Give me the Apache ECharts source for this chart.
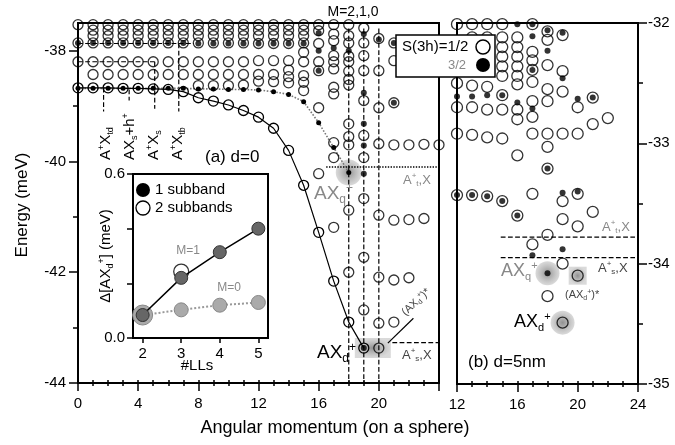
<!DOCTYPE html>
<html>
<head>
<meta charset="utf-8">
<script src="https://cdn.jsdelivr.net/npm/echarts@6/dist/echarts.min.js"></script>
<style>
html, body { margin: 0; padding: 0; background: #fff; }
#main { width: 675px; height: 445px; }
</style>
</head>
<body>
<div id="main"></div>
<script>
var FONT = 'Liberation Sans, Arial, Helvetica, sans-serif';

// ---------- panel (a): d = 0 ----------
var momA    = [0, 1, 2, 3, 4, 5, 6, 7, 8, 9, 10, 11, 12, 13, 14, 15, 16, 17, 18, 19];
var groundA = [-38.67, -38.67, -38.67, -38.68, -38.68, -38.69, -38.70, -38.74, -38.85, -38.91,
               -38.98, -39.08, -39.2, -39.4, -39.8, -40.43, -41.28, -42.16, -42.9, -43.37];
var momQ    = [0, 1, 2, 3, 4, 5, 6, 7, 8, 9, 10, 11, 12, 13, 14, 15, 16, 17, 18];
var branchQ = [-38.68, -38.68, -38.68, -38.68, -38.68, -38.68, -38.68, -38.68, -38.69, -38.69,
               -38.7, -38.7, -38.71, -38.74, -38.79, -38.92, -39.3, -39.75, -40.2];
// open circles, S=1/2: [momentum, energies...]
var openA = [
  [0, -37.53, -37.86, -38.2],
  [1, -37.53, -37.63, -37.73, -37.86, -38.2, -38.43],
  [2, -37.53, -37.63, -37.73, -37.86, -38.2, -38.43],
  [3, -37.53, -37.63, -37.73, -37.86, -38.2, -38.43],
  [4, -37.53, -37.63, -37.73, -37.86, -38.2, -38.43],
  [5, -37.53, -37.63, -37.73, -37.86, -38.2, -38.43],
  [6, -37.53, -37.63, -37.73, -37.86, -38.2, -38.43],
  [7, -37.53, -37.63, -37.73, -37.86, -38.2, -38.43],
  [8, -37.53, -37.63, -37.73, -37.86, -38.2, -38.43, -38.63],
  [9, -37.53, -37.63, -37.73, -37.86, -38.2, -38.43, -38.63],
  [10, -37.53, -37.63, -37.73, -37.86, -38.2, -38.43, -38.63],
  [11, -37.53, -37.63, -37.73, -37.86, -38.2, -38.43, -38.62],
  [12, -37.53, -37.63, -37.73, -37.87, -38.18, -38.43, -38.55],
  [13, -37.53, -37.63, -37.73, -37.87, -38.18, -38.43, -38.56],
  [14, -37.53, -37.63, -37.73, -37.87, -38.18, -38.35, -38.47, -38.58],
  [15, -37.53, -37.63, -37.73, -37.86, -38.03, -38.2, -38.45, -38.57, -38.72],
  [16, -37.53, -37.64, -37.87, -38.2, -38.36, -39.03, -40.22],
  [17, -37.53, -37.7, -37.82, -38.09, -38.2, -38.33, -38.66, -38.78, -39.66, -39.93, -41.19],
  [18, -37.53, -37.73, -37.86, -38.1, -38.2, -38.37, -38.52, -38.62, -39.32, -39.55, -39.7, -40.88, -42.0],
  [19, -37.59, -37.86, -38.09, -38.36, -38.9, -39.53, -39.93, -40.67, -41.73, -42.68],
  [20, -37.78, -38.36, -39.03, -39.68, -40.97, -42.09, -42.92, -43.37],
  [21, -37.86, -38.18, -38.94, -39.7, -41.06, -42.14, -42.9],
  [22, -39.7, -41.05, -42.1],
  [23, -39.69, -41.03],
  [24, -39.7]
];
// filled dots, S=3/2
var dotsA = [
  [0, -37.86], [1, -37.86], [2, -37.86], [3, -37.86], [4, -37.86], [5, -37.86], [6, -37.86], [7, -37.86],
  [8, -37.87], [9, -37.87], [10, -37.87], [11, -37.87], [12, -37.87], [13, -37.87], [14, -37.87], [15, -37.87],
  [16, -37.68], [16, -38.0], [16, -38.36], [17, -37.95], [18, -38.0],
  [19, -37.7], [19, -38.76], [19, -39.32], [19, -39.71], [19, -40.22], [19, -43.37],
  [20, -37.8], [21, -37.86], [21, -38.94]
];
var haloA = [[18, -40.2]];
var bandA = [[19.6, -43.37]];
var dashA = [
  [[0, -37.87], [7.7, -37.87]],
  [[0, -38.2], [5.1, -38.2]],
  [[1.7, -38.67], [1.7, -39.1]],
  [[3.4, -38.7], [3.4, -38.9]],
  [[5.1, -38.2], [5.1, -39.05]],
  [[6.7, -37.87], [6.7, -39.1]],
  [[18, -37.6], [18, -44]],
  [[19, -37.6], [19, -44]],
  [[20, -37.6], [20, -44]],
  [[20.9, -43.27], [24, -43.27]]
];
var dotLineA = [[[16.5, -40.1], [24, -40.1]]];
var pointerA = [[20.6, -43.28], [22.3, -42.83]];

// ---------- panel (b): d = 5 nm ----------
var openB = [
  [12, -32.01, -32.5, -32.7, -32.92, -33.43],
  [13, -32.01, -32.12, -32.52, -32.7, -32.93, -33.43],
  [14, -32.01, -32.12, -32.53, -32.72, -32.95, -33.44],
  [15, -32.01, -32.12, -32.2, -32.28, -32.36, -32.44, -32.6, -32.72, -32.96, -33.48],
  [16, -32.12, -32.2, -32.28, -32.36, -32.44, -32.51, -32.72, -32.8, -33.1, -33.6],
  [17, -32.01, -32.24, -32.31, -32.39, -32.49, -32.65, -32.78, -32.92, -33.42, -33.84],
  [18, -32.07, -32.14, -32.35, -32.55, -32.65, -32.92, -33.03, -33.21, -33.76, -34.27],
  [19, -32.1, -32.4, -32.57, -32.92, -33.48, -33.63, -34.0, -34.49],
  [20, -32.7, -32.92, -33.42, -33.69, -34.1],
  [21, -32.62, -32.84, -33.57],
  [22, -32.79]
];
var dotsB = [
  [12, -32.61], [13, -32.61], [14, -32.6], [15, -32.6],
  [12, -33.43], [13, -33.43], [14, -33.44], [15, -33.48],
  [16, -32.01], [16, -32.66], [16, -33.6],
  [17, -32.01], [17, -32.11], [17, -32.39], [17, -32.71], [17, -33.93],
  [18, -32.06], [18, -32.23], [18, -33.21], [18, -34.08],
  [19, -32.08], [19, -32.46], [19, -33.41], [19, -33.88],
  [20, -32.63], [20, -33.4], [21, -32.62]
];
var haloB = [[18, -34.08], [19, -34.49]];
var boxB = [[20, -34.1]];
var dashB = [
  [[14.9, -33.78], [23.8, -33.78]],
  [[14.9, -33.95], [23.8, -33.95]]
];

// ---------- inset: splitting vs number of Landau levels ----------
var llX = [2, 3, 4, 5];
var splitM1 = [0.084, 0.22, 0.314, 0.40];
var splitM0 = [0.084, 0.103, 0.12, 0.13];
var twoSub = [[3, 0.243]];

// tick labels
var xLabelsA = [0, 4, 8, 12, 16, 20];
var xMajorA = [0, 4, 8, 12, 16, 20, 24];
var xLabelsB = [12, 16, 20, 24];
var yLabelsA = [-44, -42, -40, -38];
var yMinorA = [-44, -43, -42, -41, -40, -39, -38];
var yLabelsB = [-35, -34, -33, -32];
var yMinorB = [-34.5, -33.5, -32.5];
var xLabelsIn = [2, 3, 4, 5];
var yTicksIn = [0, 0.2, 0.4, 0.6];
var yLabelsIn = [0, 0.6];

function ints(a, b) { var r = []; for (var i = a; i <= b; i++) r.push(i); return r; }
function pairs(t) {
  var out = [];
  t.forEach(function (c) { for (var i = 1; i < c.length; i++) out.push([c[0], c[i]]); });
  return out;
}
function zip(xs, ys) { return xs.map(function (x, i) { return [x, ys[i]]; }); }

var black = { color: '#000', width: 2 };
function axis(gi, min, max, pos, tickVals, len, labelVals, margin) {
  return {
    type: 'value', gridIndex: gi, min: min, max: max, position: pos,
    splitLine: { show: false },
    axisLine: { show: true, onZero: false, lineStyle: black },
    axisTick: { show: true, customValues: tickVals, length: len, lineStyle: { color: '#000', width: 1.5 } },
    axisLabel: labelVals ? {
      show: true, customValues: labelVals, color: '#000', fontSize: 15, fontFamily: FONT, margin: margin
    } : { show: false }
  };
}
function minor(gi, min, max, pos, tickVals, len, inside) {
  var a = axis(gi, min, max, pos, tickVals, len, null);
  a.axisLine = { show: false, onZero: false };
  a.axisTick.inside = !!inside;
  return a;
}

function ring(data, xi, yi, size) {
  return { type: 'scatter', xAxisIndex: xi, yAxisIndex: yi, data: data, symbol: 'circle', symbolSize: size,
    itemStyle: { color: 'rgba(255,255,255,0)', borderColor: '#000', borderWidth: 1.3 }, z: 4, silent: true };
}
function dot(data, xi, yi, size) {
  return { type: 'scatter', xAxisIndex: xi, yAxisIndex: yi, data: data, symbol: 'circle', symbolSize: size,
    itemStyle: { color: '#000' }, z: 5, silent: true };
}
var haloColor = { type: 'radial', x: 0.5, y: 0.5, r: 0.5, colorStops: [
  { offset: 0, color: 'rgba(110,110,110,0.95)' }, { offset: 1, color: 'rgba(170,170,170,0.55)' }] };
function halo(data, xi, yi, symbol, size) {
  return { type: 'scatter', xAxisIndex: xi, yAxisIndex: yi, data: data, symbol: symbol, symbolSize: size,
    itemStyle: { color: haloColor }, z: 2, silent: true };
}
function seg(points, xi, yi, type, color, width) {
  return { type: 'line', xAxisIndex: xi, yAxisIndex: yi, data: points, symbol: 'none',
    lineStyle: { type: type, color: color, width: width }, z: 3, silent: true };
}

var series = [];
// panel (a)
series.push(halo(haloA, 0, 0, 'circle', 26));
series.push(halo(bandA, 0, 0, 'rect', [36, 20]));
dashA.forEach(function (s) { series.push(seg(s, 0, 0, 'dashed', '#000', 1.2)); });
dotLineA.forEach(function (s) { series.push(seg(s, 0, 0, 'dotted', '#000', 1.4)); });
series.push(seg(pointerA, 0, 0, 'solid', '#000', 1.2));
series.push(ring(pairs(openA), 0, 0, 10));
series.push(dot(dotsA, 0, 0, 6));
series.push({
  type: 'line', xAxisIndex: 0, yAxisIndex: 0, data: zip(momQ, branchQ),
  symbol: 'circle', symbolSize: 5, showAllSymbol: true, z: 4, silent: true,
  itemStyle: { color: '#000' }, lineStyle: { type: 'dotted', color: '#777', width: 1.6 }
});
series.push({
  type: 'line', xAxisIndex: 0, yAxisIndex: 0, data: zip(momA, groundA),
  symbol: 'circle', symbolSize: 10, showAllSymbol: true, z: 4, silent: true,
  itemStyle: { color: 'rgba(255,255,255,0)', borderColor: '#000', borderWidth: 1.3 },
  lineStyle: { color: '#000', width: 1.2 }
});
// panel (b)
series.push(halo(haloB, 3, 2, 'circle', 24));
series.push(halo(boxB, 3, 2, 'rect', [18, 18]));
dashB.forEach(function (s) { series.push(seg(s, 3, 2, 'dashed', '#000', 1.2)); });
series.push(ring(pairs(openB), 3, 2, 11));
series.push(dot(dotsB, 3, 2, 6));
// inset
series.push(Object.assign(ring(twoSub, 6, 4, 15), { z: 6 }));
series.push({
  type: 'line', xAxisIndex: 6, yAxisIndex: 4, data: zip(llX, splitM0), z: 7, silent: true,
  symbol: 'circle', symbolSize: function (v) { return v[0] === 2 ? 20 : 14; },
  itemStyle: { color: '#aaa', borderColor: '#888', borderWidth: 1 },
  lineStyle: { type: 'dotted', color: '#999', width: 2 }
});
series.push({
  type: 'line', xAxisIndex: 6, yAxisIndex: 4, data: zip(llX, splitM1), z: 8, silent: true,
  symbol: 'circle', symbolSize: 13,
  itemStyle: { color: '#666', borderColor: '#333', borderWidth: 1 },
  lineStyle: { color: '#000', width: 1.5 }
});

function rich(size, color) {
  var s = Math.round(size * 0.62);
  return {
    sup: { fontSize: s, fontFamily: FONT, fill: color, verticalAlign: 'top' },
    sub: { fontSize: s, fontFamily: FONT, fill: color, verticalAlign: 'bottom' }
  };
}
function txt(x, y, text, size, opts) {
  opts = opts || {};
  var color = opts.color || '#000';
  return {
    type: 'text', x: x, y: y, rotation: opts.rotation || 0, z: 100, silent: true,
    style: {
      text: text, fontSize: size, fontFamily: FONT, fill: color, lineHeight: Math.round(size * 1.2),
      align: opts.align || 'left', verticalAlign: 'middle', rich: rich(size, color)
    }
  };
}

var graphics = [
  txt(22, 205, 'Energy (meV)', 17, { rotation: Math.PI / 2, align: 'center' }),
  txt(335, 428, 'Angular momentum (on a sphere)', 18, { align: 'center' }),
  txt(353, 12, 'M=2,1,0', 14, { align: 'center' }),
  txt(205, 157, '(a) d=0', 17),
  txt(468, 362, '(b) d=5nm', 17),
  txt(106, 160, 'A{sup|+}X{sub|td}', 15, { rotation: Math.PI / 2 }),
  txt(130, 160, 'AX{sub|s}+h{sup|+}', 15, { rotation: Math.PI / 2 }),
  txt(154, 160, 'A{sup|+}X{sub|s}', 15, { rotation: Math.PI / 2 }),
  txt(178, 160, 'A{sup|+}X{sub|tb}', 15, { rotation: Math.PI / 2 }),
  txt(314, 194, 'AX{sub|q}{sup|+}', 19, { color: '#888' }),
  txt(403, 180, 'A{sup|+}{sub|t},X', 13, { color: '#888' }),
  txt(317, 353, 'AX{sub|d}{sup|+}', 19),
  txt(402, 355, 'A{sup|+}{sub|s},X', 13, { color: '#444' }),
  txt(416, 302, '(AX{sub|d}{sup|+})*', 11, { color: '#444', rotation: 0.75, align: 'center' }),
  txt(602, 227, 'A{sup|+}{sub|t},X', 13, { color: '#888' }),
  txt(598, 268, 'A{sup|+}{sub|s},X', 13, { color: '#444' }),
  txt(501, 271, 'AX{sub|q}{sup|+}', 18, { color: '#888' }),
  txt(565, 295, '(AX{sub|d}{sup|+})*', 11, { color: '#444' }),
  txt(514, 322, 'AX{sub|d}{sup|+}', 18),
  // legend S(3h)
  { type: 'rect', z: 99, silent: true, shape: { x: 396, y: 35, width: 99, height: 42 },
    style: { fill: '#fff', stroke: '#000', lineWidth: 1.5 } },
  txt(402, 47, 'S(3h)=1/2', 15),
  txt(448, 65, '3/2', 13, { color: '#888' }),
  { type: 'circle', z: 100, silent: true, shape: { cx: 483, cy: 47, r: 7 }, style: { fill: '#fff', stroke: '#000', lineWidth: 1.5 } },
  { type: 'circle', z: 100, silent: true, shape: { cx: 483, cy: 65, r: 7 }, style: { fill: '#000' } },
  // inset legend and labels
  { type: 'circle', z: 100, silent: true, shape: { cx: 143, cy: 190, r: 7 }, style: { fill: '#000' } },
  txt(155, 190, '1 subband', 15),
  { type: 'circle', z: 100, silent: true, shape: { cx: 143, cy: 208, r: 7 }, style: { fill: '#fff', stroke: '#000', lineWidth: 1.3 } },
  txt(155, 208, '2 subbands', 15),
  txt(188, 251, 'M=1', 12, { color: '#888', align: 'center' }),
  txt(229, 288, 'M=0', 12, { color: '#888', align: 'center' }),
  txt(106, 256, 'Δ[AX{sub|d}{sup|+}] (meV)', 15, { rotation: Math.PI / 2, align: 'center' }),
  txt(197, 366, '#LLs', 15, { align: 'center' })
];

var insetY = axis(2, 0, 0.6, 'left', yTicksIn, 6, yLabelsIn, 8);
insetY.axisLabel.formatter = function (v) { return v.toFixed(1); };

var chart = echarts.init(document.getElementById('main'), null, { renderer: 'canvas' });
chart.setOption({
  animation: false,
  backgroundColor: '#fff',
  grid: [
    { left: 78, top: 23, width: 361, height: 360, show: true, borderColor: '#000', borderWidth: 2 },
    { left: 457, top: 23, width: 181, height: 361, show: true, borderColor: '#000', borderWidth: 2 },
    { left: 133, top: 174, width: 135, height: 164, show: true, borderColor: '#000', borderWidth: 2, backgroundColor: '#fff' }
  ],
  xAxis: [
    axis(0, 0, 24, 'bottom', xMajorA, 8, xLabelsA, 13),
    minor(0, 0, 24, 'bottom', ints(0, 24), 3, false),
    minor(0, 0, 24, 'bottom', ints(0, 24), 3, true),
    axis(1, 12, 24, 'bottom', xLabelsB, 8, xLabelsB, 13),
    minor(1, 12, 24, 'bottom', ints(12, 24), 3, false),
    minor(1, 12, 24, 'bottom', ints(12, 24), 3, true),
    axis(2, 1.75, 5.25, 'bottom', xLabelsIn, 5, xLabelsIn, 8)
  ],
  yAxis: [
    axis(0, -44, -37.5, 'left', yLabelsA, 9, yLabelsA, 12),
    minor(0, -44, -37.5, 'left', yMinorA, 5, false),
    axis(1, -35, -32, 'right', yLabelsB, 9, yLabelsB, 10),
    minor(1, -35, -32, 'right', yMinorB, 5, false),
    insetY
  ],
  series: series,
  graphic: graphics
});
</script>
</body>
</html>
